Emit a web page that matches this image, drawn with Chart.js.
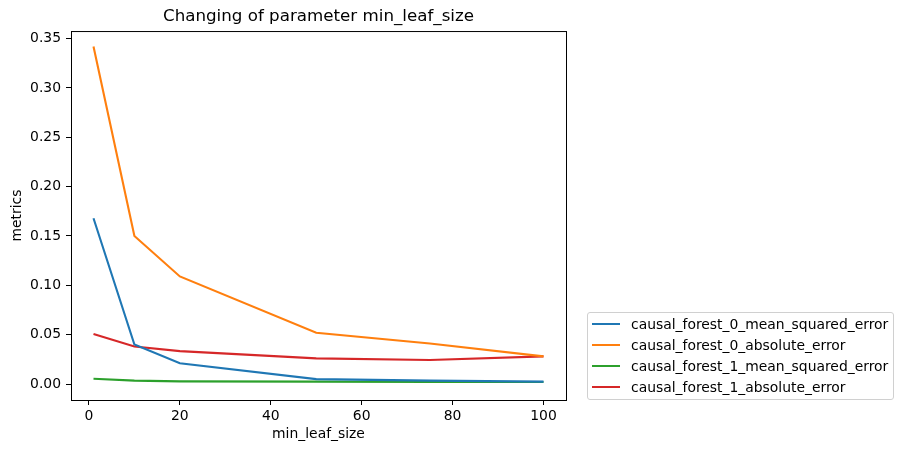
<!DOCTYPE html>
<html>
<head>
<meta charset="utf-8">
<script src="https://cdn.jsdelivr.net/npm/chart.js@4/dist/chart.umd.min.js"></script>
<style>
    body { margin: 0; background: #fff; }
    #wrap { position: relative; width: 904px; height: 453px; }
    #legend {
        position: absolute; left: 587px; top: 312px; width: 307px; height: 88px;
        border: 1px solid #d0d0d0; border-radius: 3px; box-sizing: border-box;
        font-family: 'DejaVu Sans', sans-serif; font-size: 13.9px; color: #000;
        padding-top: 1px;
    }
    .item { height: 20.8px; display: flex; align-items: center; }
    .swatch { width: 28px; height: 2px; margin-left: 4px; margin-right: 11px; }
</style>
</head>
<body>
<div id="wrap">
    <canvas id="chart" width="904" height="453"></canvas>
    <div id="legend"></div>
</div>
<script>
const minLeafSize = [1, 10, 20, 50, 75, 100];
const cf0MeanSquared = [0.168, 0.040, 0.021, 0.005, 0.0034, 0.0024];
const cf0Absolute = [0.342, 0.150, 0.109, 0.052, 0.041, 0.028];
const cf1MeanSquared = [0.0054, 0.0034, 0.0027, 0.0024, 0.0021, 0.0020];
const cf1Absolute = [0.0506, 0.038, 0.0333, 0.026, 0.0243, 0.028];

const seriesNames = [
    'causal_forest_0_mean_squared_error',
    'causal_forest_0_absolute_error',
    'causal_forest_1_mean_squared_error',
    'causal_forest_1_absolute_error'
];
const seriesValues = [cf0MeanSquared, cf0Absolute, cf1MeanSquared, cf1Absolute];
const seriesColors = ['#1f77b4', '#ff7f0e', '#2ca02c', '#d62728'];

const xTicks = [0, 20, 40, 60, 80, 100];
const yTicks = [0, 0.05, 0.10, 0.15, 0.20, 0.25, 0.30, 0.35];

const FONT = 'DejaVu Sans';

/* frame round the plot area, like matplotlib's spines */
const frame = {
    id: 'frame',
    afterDraw(chart) {
        const { ctx, chartArea: a } = chart;
        ctx.save();
        ctx.strokeStyle = '#000';
        ctx.lineWidth = 1;
        ctx.strokeRect(a.left + 0.5, a.top + 0.5, a.right - a.left, a.bottom - a.top);
        ctx.restore();
    }
};

const datasets = seriesNames.map((name, i) => ({
    label: name,
    data: minLeafSize.map((x, j) => ({ x: x, y: seriesValues[i][j] })),
    borderColor: seriesColors[i],
    backgroundColor: seriesColors[i],
    borderWidth: 2.1,
    pointRadius: 0,
    tension: 0
}));

new Chart(document.getElementById('chart'), {
    type: 'line',
    data: { datasets: datasets },
    plugins: [frame],
    options: {
        responsive: false,
        animation: false,
        layout: { padding: { left: 0, right: 338, top: 0, bottom: 0 } },
        plugins: {
            legend: { display: false },
            tooltip: { enabled: false },
            title: {
                display: true,
                text: 'Changing of parameter min_leaf_size',
                fullSize: false,
                color: '#000',
                font: { family: FONT, size: 16.7, weight: 'normal' },
                padding: { top: 7, bottom: 4 }
            }
        },
        scales: {
            x: {
                type: 'linear',
                min: -3.95,
                max: 104.95,
                afterBuildTicks: s => { s.ticks = xTicks.map(v => ({ value: v })); },
                afterFit: s => { s.height = 53; },
                grid: { drawOnChartArea: false, tickLength: 5, color: '#000' },
                border: { color: '#000' },
                ticks: {
                    color: '#000', padding: 3,
                    font: { family: FONT, size: 13.9 },
                    maxRotation: 0
                },
                title: {
                    display: true, text: 'min_leaf_size', color: '#000',
                    font: { family: FONT, size: 13.9 },
                    padding: { top: 0, bottom: 10 }
                }
            },
            y: {
                type: 'linear',
                min: -0.0162,
                max: 0.3577,
                afterBuildTicks: s => { s.ticks = yTicks.map(v => ({ value: v })); },
                afterFit: s => { s.width = 71; },
                grid: { drawOnChartArea: false, tickLength: 5, color: '#000' },
                border: { color: '#000' },
                ticks: {
                    color: '#000', padding: 5,
                    font: { family: FONT, size: 13.9 },
                    callback: v => v.toFixed(2)
                },
                title: {
                    display: true, text: 'metrics', color: '#000',
                    font: { family: FONT, size: 13.9 },
                    padding: { top: 9, bottom: 0 }
                }
            }
        }
    }
});

const legend = document.getElementById('legend');
seriesNames.forEach((name, i) => {
    const row = document.createElement('div');
    row.className = 'item';
    row.innerHTML = `<span class="swatch" style="background:${seriesColors[i]}"></span><span>${name}</span>`;
    legend.appendChild(row);
});
</script>
</body>
</html>
